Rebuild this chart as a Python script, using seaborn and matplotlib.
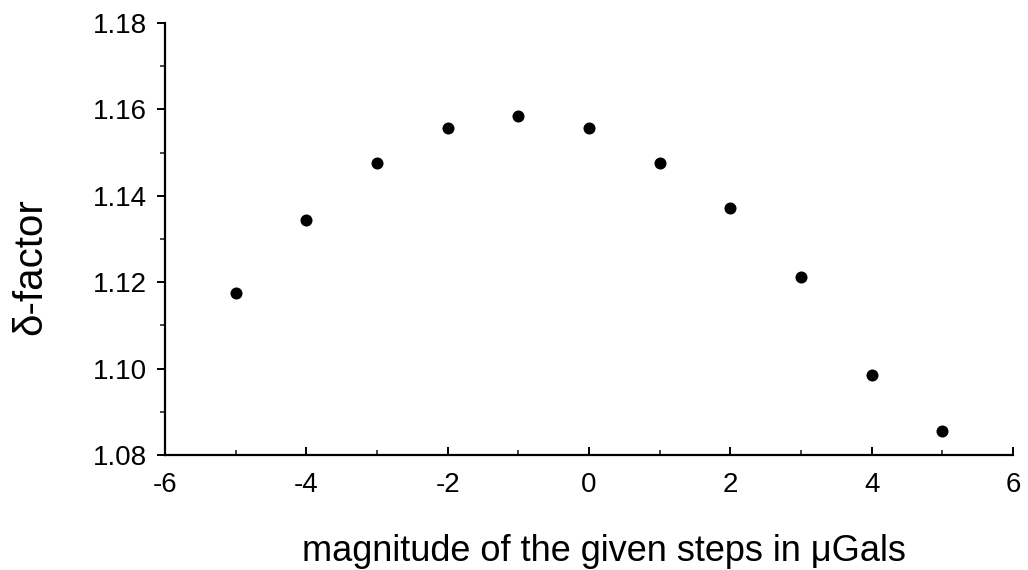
import matplotlib
matplotlib.use("Agg")
import matplotlib.pyplot as plt
import seaborn as sns
import pandas as pd
from matplotlib.ticker import MultipleLocator, FormatStrFormatter

steps = [-5, -4, -3, -2, -1, 0, 1, 2, 3, 4, 5]
delta_factor = [1.1175, 1.1345, 1.1477, 1.1557, 1.1585, 1.1556, 1.1476, 1.1372, 1.1213, 1.0985, 1.0855]

x_ticks = [-6, -4, -2, 0, 2, 4, 6]
y_ticks = [1.08, 1.10, 1.12, 1.14, 1.16, 1.18]

df = pd.DataFrame({"step": steps, "delta": delta_factor})

sns.set_style("ticks")
plt.rcParams['font.family'] = ['Liberation Sans', 'DejaVu Sans']
plt.rcParams['axes.unicode_minus'] = False

fig = plt.figure(figsize=(10.28, 5.70), dpi=100)
ax = fig.add_axes([0.1605, 0.2018, 0.8249, 0.7578])

sns.scatterplot(data=df, x="step", y="delta", ax=ax, color="black", s=75,
                edgecolor="black", linewidth=0, legend=False, zorder=3)

ax.set_xlim(-6, 6)
ax.set_ylim(1.08, 1.18)
ax.set_xticks(x_ticks)
ax.set_yticks(y_ticks)
ax.xaxis.set_minor_locator(MultipleLocator(1))
ax.yaxis.set_minor_locator(MultipleLocator(0.01))
ax.yaxis.set_major_formatter(FormatStrFormatter('%.2f'))

for s in ["top", "right"]:
    ax.spines[s].set_visible(False)
for s in ["left", "bottom"]:
    ax.spines[s].set_linewidth(1.6)
    ax.spines[s].set_color("black")

ax.tick_params(axis='x', which='major', direction='in', length=6, width=1.4, labelsize=20, pad=12, colors='black')
ax.tick_params(axis='x', which='minor', direction='in', length=3.5, width=1.2)
ax.tick_params(axis='y', which='major', direction='out', length=6, width=1.4, labelsize=20, pad=7, colors='black')
ax.tick_params(axis='y', which='minor', direction='out', length=3.5, width=1.2)

ax.set_xlabel("magnitude of the given steps in \u03bcGals", fontsize=26, color="black")
ax.set_ylabel("\u03b4-factor", fontsize=29, color="black")
ax.xaxis.set_label_coords(0.518, -0.183)
ax.yaxis.set_label_coords(-0.136, 0.435)

fig.savefig("out.png", dpi=100, facecolor="white")
